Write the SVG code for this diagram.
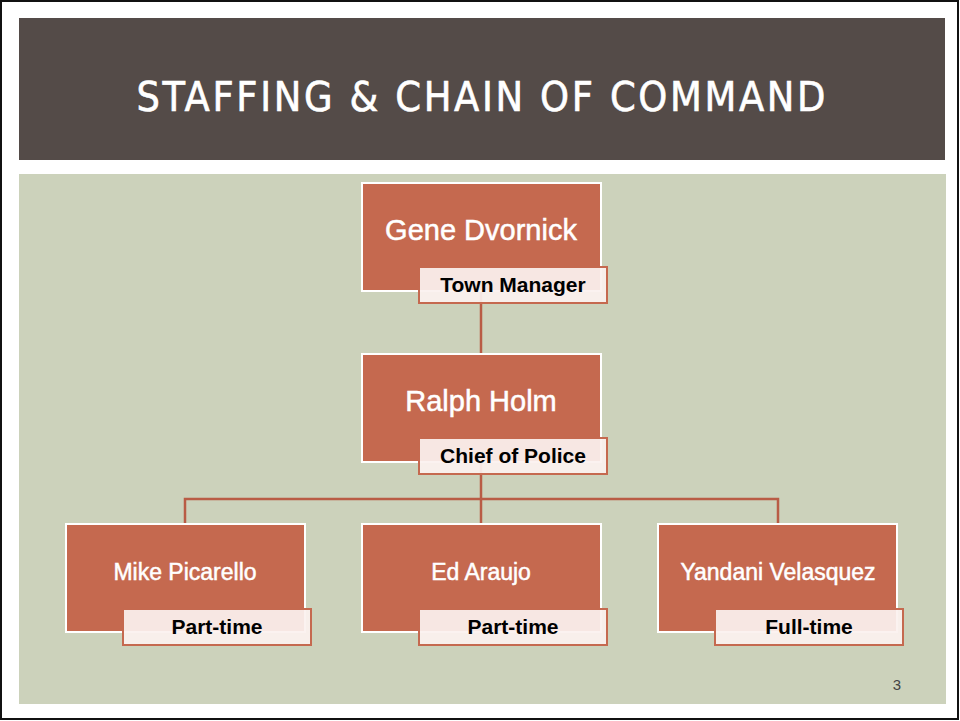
<svg xmlns="http://www.w3.org/2000/svg" width="960" height="721" viewBox="0 0 960 721">
<style>
.box{fill:#C5694F;stroke:#FFFFFF;stroke-width:2}
.lbl{fill:#FBF1EF;fill-opacity:0.93;stroke:#C5694F;stroke-width:2}
.name{font-family:"Liberation Sans",Arial,sans-serif;fill:#FFFFFF;stroke:#FFFFFF;stroke-width:0.5;text-anchor:middle}
.role{font-family:"Liberation Sans",Arial,sans-serif;font-weight:bold;font-size:21px;fill:#000000;text-anchor:middle}
.conn{stroke:#B95C45;stroke-width:2.5;fill:none}
</style>
<rect x="0" y="0" width="960" height="721" fill="#FFFFFF"/>
<rect x="1" y="1" width="957" height="718" fill="none" stroke="#111" stroke-width="2"/>
<rect x="19" y="18" width="926" height="142" fill="#544B48"/>
<text x="481" y="111" font-family="'DejaVu Sans Condensed','Liberation Sans Narrow','Liberation Sans',Arial,sans-serif" font-size="41" fill="#FFFFFF" stroke="#FFFFFF" stroke-width="0.6" text-anchor="middle" textLength="689" lengthAdjust="spacing">STAFFING &amp; CHAIN OF COMMAND</text>
<rect x="19" y="174" width="927" height="530" fill="#CCD2BB"/>
<g id="connectors">
<path class="conn" d="M481,291 V354"/>
<path class="conn" d="M481,462 V524"/>
<path class="conn" d="M185,524 V499 H778 V524"/>
</g>
<g id="node-gene">
<rect class="box" x="362" y="183" width="239" height="108"/>
<rect class="lbl" x="419" y="267" width="188" height="36"/>
<text class="name" x="481" y="240" font-size="29">Gene Dvornick</text>
<text class="role" x="513" y="292">Town Manager</text>
</g>
<g id="node-ralph">
<rect class="box" x="362" y="354" width="239" height="108"/>
<rect class="lbl" x="419" y="438" width="188" height="36"/>
<text class="name" x="481" y="411" font-size="29">Ralph Holm</text>
<text class="role" x="513" y="463">Chief of Police</text>
</g>
<g id="node-mike">
<rect class="box" x="66" y="524" width="239" height="108"/>
<rect class="lbl" x="123" y="609" width="188" height="36"/>
<text class="name" x="185" y="580" font-size="23">Mike Picarello</text>
<text class="role" x="217" y="634">Part-time</text>
</g>
<g id="node-ed">
<rect class="box" x="362" y="524" width="239" height="108"/>
<rect class="lbl" x="419" y="609" width="188" height="36"/>
<text class="name" x="481" y="580" font-size="23">Ed Araujo</text>
<text class="role" x="513" y="634">Part-time</text>
</g>
<g id="node-yandani">
<rect class="box" x="658" y="524" width="239" height="108"/>
<rect class="lbl" x="715" y="609" width="188" height="36"/>
<text class="name" x="778" y="580" font-size="23">Yandani Velasquez</text>
<text class="role" x="809" y="634">Full-time</text>
</g>
<text x="897" y="690" font-family="'Liberation Sans',Arial,sans-serif" font-size="15" fill="#444444" text-anchor="middle">3</text>
</svg>
